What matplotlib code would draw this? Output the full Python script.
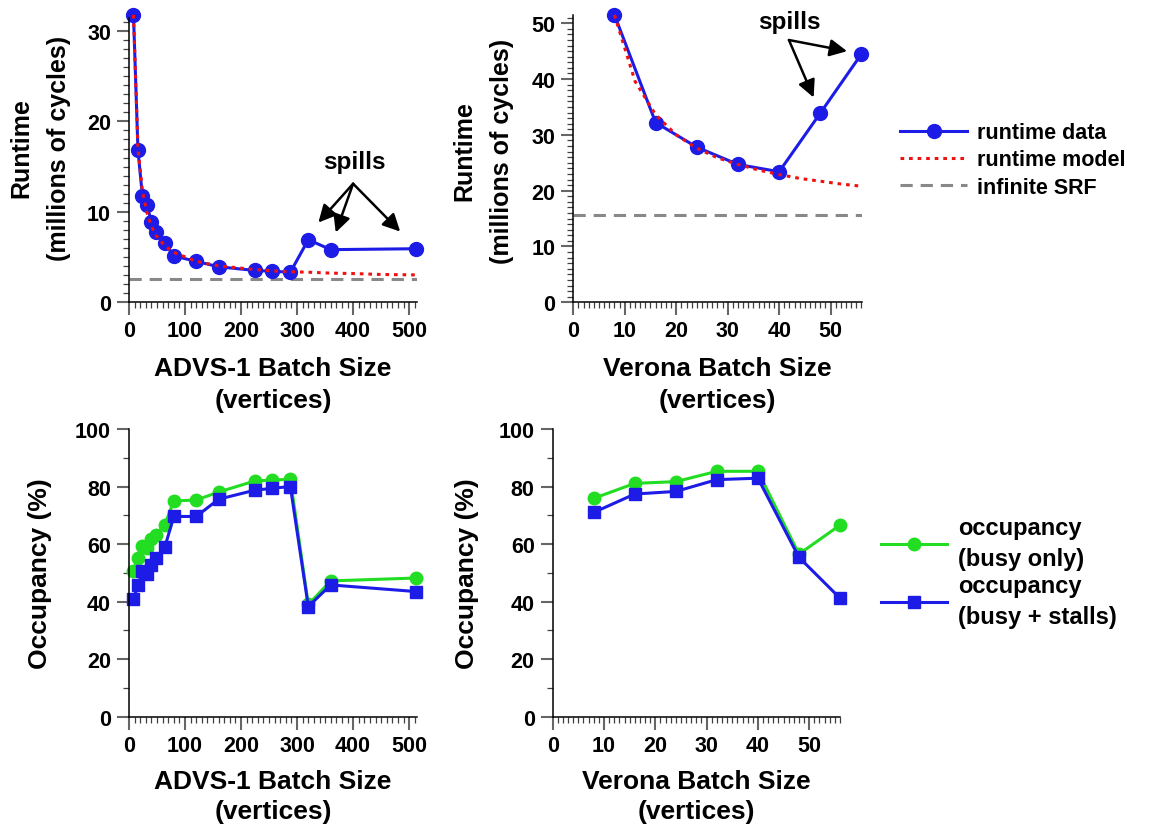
import matplotlib
matplotlib.use('Agg')
import matplotlib.pyplot as plt
from matplotlib.ticker import MultipleLocator

plt.rcParams['font.family'] = ['Liberation Sans', 'DejaVu Sans']
plt.rcParams['font.weight'] = 'bold'

# ADVS-1 runtime (millions of cycles) vs batch size
advs_batch = [8, 16, 24, 32, 40, 48, 64, 80, 120, 160, 224, 256, 288, 320, 360, 512]
advs_runtime = [31.8, 16.8, 11.7, 10.7, 8.9, 7.8, 6.5, 5.1, 4.5, 3.9, 3.5, 3.4, 3.3, 6.9, 5.8, 5.9]
advs_model_batch = [8, 16, 24, 32, 40, 48, 64, 80, 120, 160, 224, 256, 288, 320, 360, 400, 450, 512]
advs_model = [31.8, 17.0, 12.3, 9.9, 8.4, 7.4, 6.2, 5.5, 4.5, 4.0, 3.6, 3.45, 3.35, 3.3, 3.2, 3.15, 3.05, 3.0]
advs_srf = 2.6

# Verona runtime
verona_batch = [8, 16, 24, 32, 40, 48, 56]
verona_runtime = [51.5, 32.2, 27.8, 24.7, 23.4, 33.9, 44.5]
verona_model_batch = [8, 12, 16, 20, 24, 28, 32, 36, 40, 44, 48, 52, 56]
verona_model = [51.5, 39.6, 33.6, 30.0, 27.6, 25.9, 24.7, 23.7, 22.9, 22.2, 21.7, 21.2, 20.8]
verona_srf = 15.7

# occupancy (%)
advs_busy = [50.8, 55.1, 59.4, 58.8, 61.7, 63.2, 66.8, 75.0, 75.3, 78.1, 81.9, 82.3, 82.5, 39.0, 47.2, 48.2]
advs_stalls = [40.9, 45.7, 50.5, 49.5, 52.8, 55.0, 59.0, 69.6, 69.6, 75.6, 78.7, 79.4, 80.0, 38.3, 45.8, 43.5]
verona_busy = [75.9, 81.1, 81.7, 85.3, 85.3, 56.5, 66.6]
verona_stalls = [71.0, 77.4, 78.3, 82.4, 82.9, 55.4, 41.2]

BLUE = '#1c1ce6'
GREEN = '#22dd22'
RED = '#ee1111'
GRAY = '#888888'

W, H = 1151, 829
fig = plt.figure(figsize=(W / 100, H / 100), dpi=100)


def px_axes(x0, x1, y_top, y_bot):
    return fig.add_axes([x0 / W, 1 - y_bot / H, (x1 - x0) / W, (y_bot - y_top) / H])


def style_axes(ax, xmaj, xmin, ymaj, ymin):
    for s in ['top', 'right']:
        ax.spines[s].set_visible(False)
    for s in ['left', 'bottom']:
        ax.spines[s].set_linewidth(1.1)
    ax.xaxis.set_major_locator(MultipleLocator(xmaj))
    ax.xaxis.set_minor_locator(MultipleLocator(xmin))
    ax.yaxis.set_major_locator(MultipleLocator(ymaj))
    ax.yaxis.set_minor_locator(MultipleLocator(ymin))
    ax.tick_params(which='major', direction='out', length=9, width=1.5,
                   color='0.4', labelsize=15.5, pad=4)
    ax.tick_params(which='minor', direction='out', length=4.5, width=0.9, color='0.25')
    for lab in ax.get_xticklabels() + ax.get_yticklabels():
        lab.set_fontweight('bold')


def ftext(x, y, s, **kw):
    fig.text(x / W, 1 - y / H, s, ha='center', va='center', fontweight='bold',
             multialignment='center', **kw)


def spills(ax, text_xy, tail, heads):
    ax.text(text_xy[0], text_xy[1], 'spills', ha='center', va='center',
            fontsize=17.5, fontweight='bold')
    for h in heads:
        ax.annotate('', xy=h, xytext=tail,
                    arrowprops=dict(arrowstyle='-|>', lw=1.8, color='black',
                                    mutation_scale=26, shrinkA=0, shrinkB=0))


# top left: ADVS-1 runtime
ax1 = px_axes(129, 417, 18.6, 303)
ax1.axhline(advs_srf, color=GRAY, lw=2.2, ls=(0, (4, 2.6)))
ax1.plot(advs_batch, advs_runtime, color=BLUE, lw=2.2, marker='o', ms=10, clip_on=False)
ax1.plot(advs_model_batch, advs_model, color=RED, lw=2.2, ls=(0, (1.2, 1.6)), clip_on=False)
ax1.set_xlim(0, 514)
ax1.set_ylim(0, 31.5)
style_axes(ax1, 100, 10, 10, 1)
spills(ax1, (403, 15.6), (400, 13.1), [(338, 8.8), (369, 7.7), (484, 7.8)])

# top right: Verona runtime
ax2 = px_axes(573.3, 862, 15.9, 303.3)
ax2.axhline(verona_srf, color=GRAY, lw=2.2, ls=(0, (4, 2.6)))
l_data, = ax2.plot(verona_batch, verona_runtime, color=BLUE, lw=2.2, marker='o', ms=10,
                   clip_on=False)
l_model, = ax2.plot(verona_model_batch, verona_model, color=RED, lw=2.2, ls=(0, (1.2, 1.6)),
                    clip_on=False)
ax2.set_xlim(0, 56.1)
ax2.set_ylim(0, 51.5)
style_axes(ax2, 10, 1, 10, 1)
spills(ax2, (41.9, 50.3), (41.9, 47.0), [(53.2, 45.0), (46.7, 36.7)])

l_srf = plt.Line2D([], [], color=GRAY, lw=2.2, ls=(0, (4, 2.6)))
fig.legend([l_data, l_model, l_srf], ['runtime data', 'runtime model', 'infinite SRF'],
           loc='center left', bbox_to_anchor=(881 / W, 1 - 161 / H), frameon=False,
           handlelength=3.1, handletextpad=0.45, labelspacing=0.3,
           prop={'weight': 'bold', 'size': 15.5})

# bottom left: ADVS-1 occupancy
ax3 = px_axes(129, 417, 430, 717.7)
ax3.plot(advs_batch, advs_busy, color=GREEN, lw=2.2, marker='o', ms=9, clip_on=False)
ax3.plot(advs_batch, advs_stalls, color=BLUE, lw=2.2, marker='s', ms=9, clip_on=False)
ax3.set_xlim(0, 514)
ax3.set_ylim(0, 100)
style_axes(ax3, 100, 10, 20, 10)

# bottom right: Verona occupancy
ax4 = px_axes(552.7, 840, 430, 717.7)
g_busy, = ax4.plot(verona_batch, verona_busy, color=GREEN, lw=2.2, marker='o', ms=9,
                   clip_on=False)
g_stall, = ax4.plot(verona_batch, verona_stalls, color=BLUE, lw=2.2, marker='s', ms=9,
                    clip_on=False)
ax4.set_xlim(0, 56)
ax4.set_ylim(0, 100)
style_axes(ax4, 10, 1, 20, 10)

leg = fig.legend([g_busy, g_stall], ['occupancy\n(busy only)', 'occupancy\n(busy + stalls)'],
                 loc='center left', bbox_to_anchor=(860 / W, 1 - 573 / H), frameon=False,
                 handlelength=2.8, handletextpad=0.45, labelspacing=0.15,
                 prop={'weight': 'bold', 'size': 17})
for t in leg.get_texts():
    t.set_linespacing(1.45)

# axis titles
lab = dict(fontsize=19)
ftext(273, 385, 'ADVS-1 Batch Size\n(vertices)', linespacing=1.4, **lab)
ftext(717, 385, 'Verona Batch Size\n(vertices)', linespacing=1.4, **lab)
ftext(273, 797, 'ADVS-1 Batch Size\n(vertices)', linespacing=1.3, **lab)
ftext(696, 797, 'Verona Batch Size\n(vertices)', linespacing=1.3, **lab)
ftext(40, 148, 'Runtime\n(millions of cycles)', rotation=90, linespacing=1.7, fontsize=18)
ftext(483, 151, 'Runtime\n(millions of cycles)', rotation=90, linespacing=1.7, fontsize=18)
ftext(40, 574, 'Occupancy (%)', rotation=90, **lab)
ftext(467, 574, 'Occupancy (%)', rotation=90, **lab)

fig.savefig('out.png', dpi=100)
